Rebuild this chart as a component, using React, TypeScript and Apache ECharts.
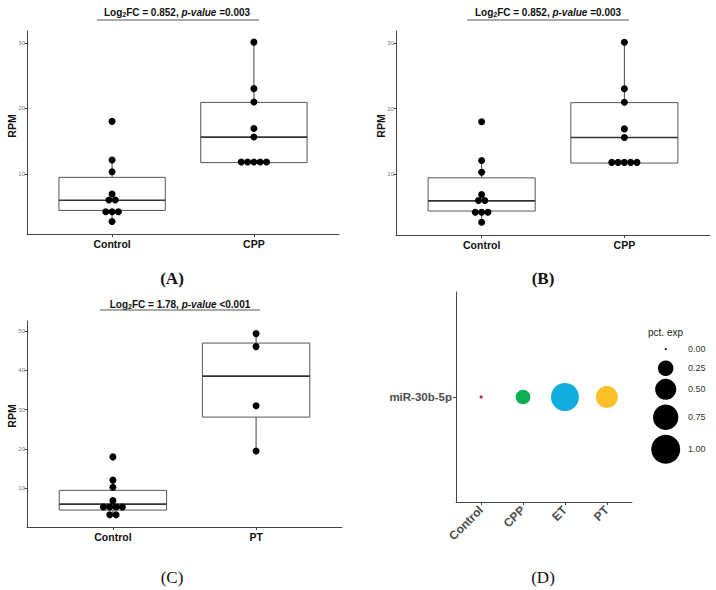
import React, { useEffect, useRef } from 'react';
import * as echarts from 'echarts';

// ---------- data ----------
const groupsAB = ['Control', 'CPP'];
const groupsC = ['Control', 'PT'];
const controlAB = [18, 12.1, 10.3, 6.9, 6.0, 6.0, 4.2, 4.2, 4.2, 2.7];
const cppAB = [30.1, 23.0, 20.95, 16.9, 15.6, 11.8, 11.8, 11.8, 11.8, 11.8];
const controlC = [18, 12.1, 10.3, 6.9, 5.3, 5.3, 5.3, 5.3, 3.3, 3.3];
const ptC = [49.3, 46.0, 31.0, 19.5];
// box stats: [lower whisker, Q1, median, Q3, upper whisker]
const boxControlAB = [2.7, 4.4, 5.95, 9.45, 12.1];
const boxCppAB = [11.7, 11.7, 15.6, 20.9, 30.1];
const boxControlC = [3.3, 4.5, 6.0, 9.5, 12.1];
const boxPtC = [19.5, 28.1, 38.5, 46.9, 49.3];
const ticksAB = [10, 20, 30];
const ticksC = [10, 20, 30, 40, 50];
const dotGroups = ['Control', 'CPP', 'ET', 'PT'];
const dotGene = ['miR-30b-5p'];
const pctExp = [0.002, 0.22, 0.93, 0.55];
const dotColors = ['#D81B60', '#0DAF55', '#12ADDE', '#FBBF2A'];
const legendPct = [0, 0.25, 0.5, 0.75, 1];
const legendLabels = ['0.00', '0.25', '0.50', '0.75', '1.00'];

// ---------- styling / layout ----------
const SANS = 'Liberation Sans, Arial, sans-serif';
const SERIF = 'Liberation Serif, DejaVu Serif, serif';
const DOT_R = 3.5;
const DOT_STEP = 6.3;
const BOX_W = 0.75;
const sizeOf = (p: number) => 2 + 27 * Math.sqrt(p);
const legendY = [349, 368.3, 389.3, 417.3, 449.3];

function stack(cat: number, values: number[]) {
  const counts: Record<string, number> = {};
  values.forEach((v) => { counts[v] = (counts[v] || 0) + 1; });
  const seen: Record<string, number> = {};
  return values.map((v) => {
    const k = seen[v] || 0;
    seen[v] = k + 1;
    return [cat, v, k, counts[v]];
  });
}

const dotRender = (params: any, api: any) => {
  const c = api.coord([api.value(0), api.value(1)]);
  const k = api.value(2);
  const n = api.value(3);
  return {
    type: 'circle',
    shape: { cx: c[0] + (k - (n - 1) / 2) * DOT_STEP, cy: c[1], r: DOT_R },
    style: { fill: '#000' },
  };
};

const boxRender = (params: any, api: any) => {
  const x = api.value(0);
  const lo = api.coord([x, api.value(1)]);
  const q1 = api.coord([x, api.value(2)]);
  const md = api.coord([x, api.value(3)]);
  const q3 = api.coord([x, api.value(4)]);
  const hi = api.coord([x, api.value(5)]);
  const hw = api.size([BOX_W, 0])[0] / 2;
  return {
    type: 'group',
    children: [
      { type: 'line', shape: { x1: q3[0], y1: q3[1], x2: hi[0], y2: hi[1] }, style: { stroke: '#444', lineWidth: 1 } },
      { type: 'line', shape: { x1: q1[0], y1: q1[1], x2: lo[0], y2: lo[1] }, style: { stroke: '#444', lineWidth: 1 } },
      { type: 'rect', shape: { x: md[0] - hw, y: q3[1], width: 2 * hw, height: q1[1] - q3[1] }, style: { fill: '#fff', stroke: '#555', lineWidth: 1 } },
      { type: 'line', shape: { x1: md[0] - hw, y1: md[1], x2: md[0] + hw, y2: md[1] }, style: { stroke: '#333', lineWidth: 1.6 } },
    ],
  };
};

const xCat = (gridIndex: number, cats: string[]) => {
  const vals = cats.map((_, i) => i + 1);
  return {
    type: 'value', gridIndex, min: 0.4, max: cats.length + 0.6,
    splitLine: { show: false },
    axisLine: { show: true, onZero: false, lineStyle: { color: '#444', width: 1 } },
    axisTick: { show: true, customValues: vals, length: 3, lineStyle: { color: '#444' } },
    axisLabel: {
      customValues: vals, formatter: (v: number) => cats[Math.round(v) - 1] ?? '',
      fontSize: 10.5, fontWeight: 'bold', color: '#111', margin: 4, fontFamily: SANS,
    },
  };
};

const yVal = (gridIndex: number, min: number, max: number, ticks: number[]) => ({
  type: 'value', gridIndex, min, max,
  splitLine: { show: false },
  axisLine: { show: true, lineStyle: { color: '#444', width: 1 } },
  axisTick: { show: true, customValues: ticks, length: 2.5, lineStyle: { color: '#444' } },
  axisLabel: { customValues: ticks, fontSize: 6, color: '#777', margin: 2, fontFamily: SANS },
});

const titleText = (cx: number, cy: number, fc: string, pv: string) => ({
  type: 'text', x: cx, y: cy,
  style: {
    text: `{b|Log}{s|2}{b|FC = ${fc}, }{i|p-value}{b| ${pv}}`,
    align: 'center', verticalAlign: 'middle',
    rich: {
      b: { fontFamily: SANS, fontSize: 10, fontWeight: 'bold', fill: '#111' },
      i: { fontFamily: SANS, fontSize: 10, fontWeight: 'bold', fontStyle: 'italic', fill: '#111' },
      s: { fontFamily: SANS, fontSize: 7, fontWeight: 'bold', fill: '#111', verticalAlign: 'bottom', padding: [5, 0, 0, 0] },
    },
  },
});

const hline = (x1: number, x2: number, y: number) => ({
  type: 'line', shape: { x1, y1: y, x2, y2: y }, style: { stroke: '#555', lineWidth: 1 },
});

const rpm = (x: number, y: number) => ({
  type: 'text', x, y, rotation: Math.PI / 2,
  style: { text: 'RPM', fontFamily: SANS, fontSize: 10.5, fontWeight: 'bold', fill: '#111', align: 'center', verticalAlign: 'middle' },
});

const panelLabel = (x: number, y: number, t: string, bold: boolean) => ({
  type: 'text', x, y,
  style: { text: t, fontFamily: SERIF, fontSize: 17, fontWeight: bold ? 'bold' : 'normal', fill: '#111', align: 'center', verticalAlign: 'middle' },
});

export default function App() {
  const ref = useRef<HTMLDivElement>(null);
  useEffect(() => {
    if (!ref.current) return;
    const chart = echarts.init(ref.current, undefined, { renderer: 'svg' });
    const legendEls: any[] = [];
    legendPct.forEach((p, i) => {
      legendEls.push({ type: 'circle', shape: { cx: 665.7, cy: legendY[i], r: sizeOf(p) / 2 }, style: { fill: '#000' } });
      legendEls.push({ type: 'text', x: 688, y: legendY[i], style: { text: legendLabels[i], fontFamily: SANS, fontSize: 9, fill: '#333', verticalAlign: 'middle' } });
    });
    chart.setOption({
      animation: false,
      backgroundColor: '#fff',
      grid: [
        { left: 27, top: 31, width: 312, height: 203 },
        { left: 396, top: 31, width: 314, height: 204 },
        { left: 27, top: 321, width: 315, height: 206 },
        { left: 456, top: 292, width: 176, height: 210 },
      ],
      xAxis: [
        xCat(0, groupsAB),
        xCat(1, groupsAB),
        xCat(2, groupsC),
        {
          type: 'value', gridIndex: 3, min: 0.4, max: 4.6,
          splitLine: { show: false },
          axisLine: { show: true, onZero: false, lineStyle: { color: '#444', width: 1 } },
          axisTick: { show: true, customValues: [1, 2, 3, 4], length: 3, lineStyle: { color: '#444' } },
          axisLabel: {
            customValues: [1, 2, 3, 4], formatter: (v: number) => dotGroups[Math.round(v) - 1] ?? '',
            rotate: 45, fontSize: 12, fontWeight: 'bold', color: '#4d4d4d', margin: 6, fontFamily: SANS,
          },
        },
      ],
      yAxis: [
        yVal(0, 0.8, 31.8, ticksAB),
        yVal(1, 0.75, 31.8, ticksAB),
        yVal(2, 0.2, 52.5, ticksC),
        {
          type: 'category', gridIndex: 3, data: dotGene,
          axisLine: { show: true, lineStyle: { color: '#444', width: 1 } },
          axisTick: { show: true, alignWithLabel: true, length: 3, lineStyle: { color: '#444' } },
          axisLabel: { fontSize: 11.5, fontWeight: 'bold', color: '#4d4d4d', margin: 4, fontFamily: SANS },
        },
      ],
      series: [
        { type: 'custom', xAxisIndex: 0, yAxisIndex: 0, renderItem: boxRender, encode: { x: 0, y: [1, 2, 3, 4, 5] }, data: [[1, ...boxControlAB], [2, ...boxCppAB]], z: 1 },
        { type: 'custom', xAxisIndex: 0, yAxisIndex: 0, renderItem: dotRender, encode: { x: 0, y: 1 }, data: [...stack(1, controlAB), ...stack(2, cppAB)], z: 2 },
        { type: 'custom', xAxisIndex: 1, yAxisIndex: 1, renderItem: boxRender, encode: { x: 0, y: [1, 2, 3, 4, 5] }, data: [[1, ...boxControlAB], [2, ...boxCppAB]], z: 1 },
        { type: 'custom', xAxisIndex: 1, yAxisIndex: 1, renderItem: dotRender, encode: { x: 0, y: 1 }, data: [...stack(1, controlAB), ...stack(2, cppAB)], z: 2 },
        { type: 'custom', xAxisIndex: 2, yAxisIndex: 2, renderItem: boxRender, encode: { x: 0, y: [1, 2, 3, 4, 5] }, data: [[1, ...boxControlC], [2, ...boxPtC]], z: 1 },
        { type: 'custom', xAxisIndex: 2, yAxisIndex: 2, renderItem: dotRender, encode: { x: 0, y: 1 }, data: [...stack(1, controlC), ...stack(2, ptC)], z: 2 },
        {
          type: 'scatter', xAxisIndex: 3, yAxisIndex: 3,
          symbolSize: (val: number[]) => sizeOf(val[2]),
          data: pctExp.map((p, i) => ({ value: [i + 1, 0, p], itemStyle: { color: dotColors[i], opacity: 1 } })),
        },
      ],
      graphic: [
        titleText(177, 12.3, '0.852', '=0.003'),
        hline(97, 259, 20),
        titleText(548, 12.3, '0.852', '=0.003'),
        hline(467, 629, 20),
        titleText(180, 304.3, '1.78', '<0.001'),
        hline(100, 260, 310),
        rpm(12, 126),
        rpm(381, 126),
        rpm(12, 416),
        panelLabel(172, 278, '(A)', true),
        panelLabel(543, 278, '(B)', true),
        panelLabel(172, 577, '(C)', false),
        panelLabel(543, 577, '(D)', false),
        { type: 'text', x: 648, y: 332, style: { text: 'pct. exp', fontFamily: SANS, fontSize: 10, fill: '#222', verticalAlign: 'middle' } },
        ...legendEls,
      ],
    });
    return () => chart.dispose();
  }, []);
  return <div ref={ref} style={{ position: 'fixed', left: 0, top: 0, width: 716, height: 590, background: '#fff' }} />;
}
